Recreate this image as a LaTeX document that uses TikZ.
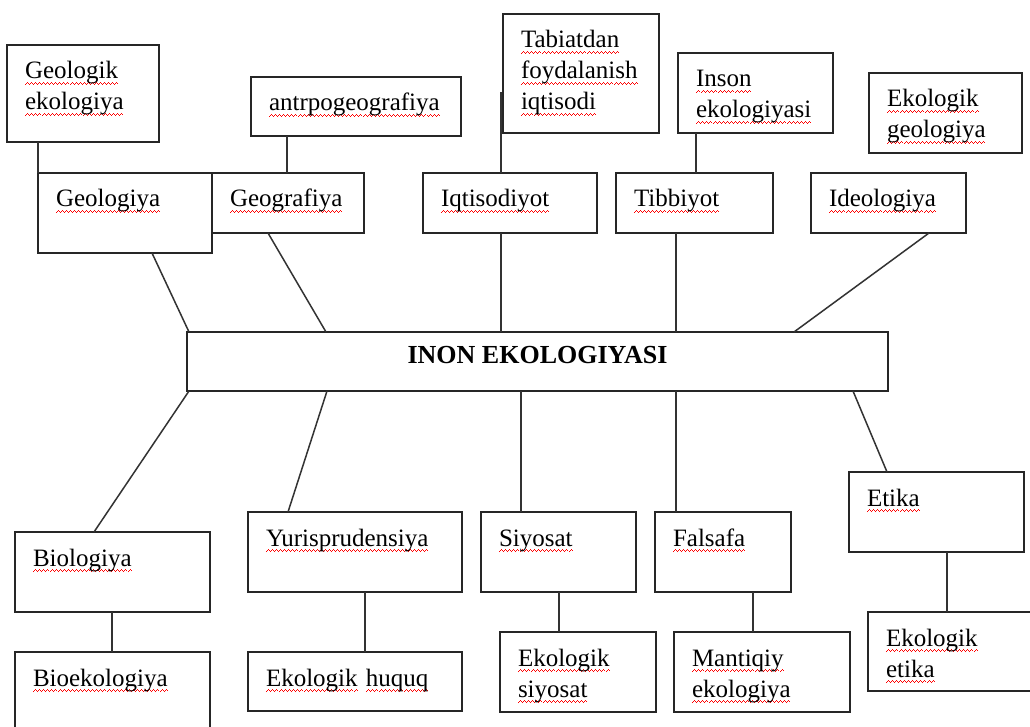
\documentclass[tikz,border=0pt]{standalone}
\usepackage{fontspec}
\setmainfont{Liberation Serif}
\newsavebox\rwbox
\newcommand\rwseg{\hbox{\rule[-6pt]{1pt}{1pt}\rule[-5pt]{1pt}{1pt}\rule[-4pt]{1pt}{1pt}\rule[-5pt]{1pt}{1pt}}}
\newcommand\rw[1]{\leavevmode\sbox\rwbox{#1}\rlap{\color{red}\hbox to \wd\rwbox{\xleaders\rwseg\hfil}}\usebox\rwbox}
\tikzset{
  box/.style={draw=black!85, line width=1.5pt, fill=white, inner sep=0pt, outer sep=0pt, anchor=north west},
  txt/.style={inner sep=0pt, outer sep=0pt, anchor=base west, text width=180pt, align=left, font=\fontsize{25}{31}\selectfont},
  conn/.style={draw=black!80, line width=1.5pt},
}
\newcommand\bx[6]{%
  \node[box, minimum width=#4pt, minimum height=#5pt] (#1) at (#2,#3) {};
  \node[txt] (#1-t) at ([shift={(18pt,-34pt)}]#1.north west) {#6};}
\begin{document}
\begin{tikzpicture}[x=1pt, y=-1pt]
\useasboundingbox (0,0) rectangle (1030,727);
\fill[white] (0,0) rectangle (1030,727);
\clip (0,0) rectangle (1030,727);

% upper row
\bx{gek}{7}{45}{152}{97}{\rw{Geologik}\\\rw{ekologiya}}
\bx{ant}{251}{77}{210}{59}{\rw{antrpogeografiya}}
\bx{tab}{503}{14}{156}{119}{\rw{Tabiatdan}\\\rw{foydalanish}\\\rw{iqtisodi}}
\bx{ins}{678}{53}{155}{80}{\rw{Inson}\\\rw{ekologiyasi}}
\bx{egl}{869}{73}{153}{80}{\rw{Ekologik}\\\rw{geologiya}}

% second row
\bx{geo}{38}{173}{174}{80}{\rw{Geologiya}}
\bx{gef}{212}{173}{152}{60}{\rw{Geografiya}}
\bx{iqt}{423}{173}{174}{60}{\rw{Iqtisodiyot}}
\bx{tib}{616}{173}{157}{60}{\rw{Tibbiyot}}
\bx{ide}{811}{173}{155}{60}{\rw{Ideologiya}}

% centre
\node[box, minimum width=701pt, minimum height=59pt] (ctr) at (187,332) {};
\node[inner sep=0pt, anchor=base, font=\fontsize{26}{30}\selectfont\bfseries] (ctr-t) at ([yshift=-1.5pt]ctr.center) {INON EKOLOGIYASI};

% lower rows
\bx{bio}{15}{532}{195}{80}{\rw{Biologiya}}
\bx{bek}{15}{652}{195}{90}{\rw{Bioekologiya}}
\bx{yur}{248}{512}{214}{80}{\rw{Yurisprudensiya}}
\bx{ehq}{248}{652}{214}{59}{\rw{Ekologik} \rw{huquq}}
\bx{siy}{481}{512}{155}{80}{\rw{Siyosat}}
\bx{esy}{500}{632}{156}{80}{\rw{Ekologik}\\\rw{siyosat}}
\bx{fal}{655}{512}{136}{80}{\rw{Falsafa}}
\bx{man}{674}{632}{176}{80}{\rw{Mantiqiy}\\\rw{ekologiya}}
\bx{eti}{849}{472}{175}{80}{\rw{Etika}}
\bx{eet}{868}{612}{175}{79}{\rw{Ekologik}\\\rw{etika}}

\coordinate (iqtend) at (501,92);

% connectors
\draw[conn] ([xshift=31pt]gek.south west) -- (geo.north west);
\draw[conn] ([xshift=36pt]ant.south west) -- ([xshift=75pt]gef.north west);
\draw[conn] ([xshift=78pt]iqt.north west) -- (iqtend);
\draw[conn] ([xshift=18pt]ins.south west) -- ([xshift=80pt]tib.north west);

\draw[conn] ([xshift=114pt]geo.south west) -- ([xshift=2pt]ctr.north west);
\draw[conn] ([xshift=56pt]gef.south west) -- ([xshift=139pt]ctr.north west);
\draw[conn] ([xshift=78pt]iqt.south west) -- ([xshift=314pt]ctr.north west);
\draw[conn] ([xshift=60pt]tib.south west) -- ([xshift=489pt]ctr.north west);
\draw[conn] ([xshift=118pt]ide.south west) -- ([xshift=607pt]ctr.north west);

\draw[conn] ([xshift=2pt]ctr.south west) -- ([xshift=79pt]bio.north west);
\draw[conn] ([xshift=140pt]ctr.south west) -- ([xshift=40pt]yur.north west);
\draw[conn] ([xshift=334pt]ctr.south west) -- ([xshift=40pt]siy.north west);
\draw[conn] ([xshift=489pt]ctr.south west) -- ([xshift=21pt]fal.north west);
\draw[conn] ([xshift=666pt]ctr.south west) -- ([xshift=38pt]eti.north west);

\draw[conn] ([xshift=97pt]bio.south west) -- ([xshift=97pt]bek.north west);
\draw[conn] ([xshift=117pt]yur.south west) -- ([xshift=117pt]ehq.north west);
\draw[conn] ([xshift=78pt]siy.south west) -- ([xshift=59pt]esy.north west);
\draw[conn] ([xshift=98pt]fal.south west) -- ([xshift=79pt]man.north west);
\draw[conn] ([xshift=98pt]eti.south west) -- ([xshift=79pt]eet.north west);
\end{tikzpicture}
\end{document}
